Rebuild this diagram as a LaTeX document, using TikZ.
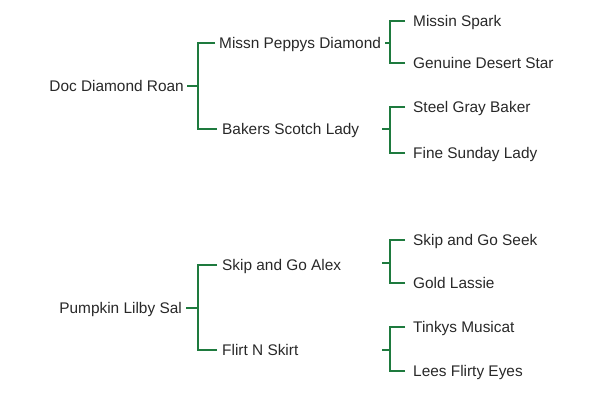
\documentclass[tikz,border=0pt]{standalone}
\usepackage{fontspec}
\setmainfont{Liberation Sans}
\definecolor{linegreen}{RGB}{30,122,62}
\definecolor{txtgray}{RGB}{40,40,40}
\begin{document}
\begin{tikzpicture}[x=1pt,y=-1pt,
  horse/.style={font=\fontsize{15.4}{17}\selectfont, text=txtgray, inner sep=0pt, text height=0.716em, text depth=0pt, yshift=-1.5pt},
  conn/.style={draw=linegreen, line width=1.3pt}]
\useasboundingbox (0,0) rectangle (600,400);
% top tree
\node[horse, anchor=east] (r1) at (184,86) {Doc Diamond Roan};
\node[horse, anchor=west] (a1) at (219,43) {Missn Peppys Diamond};
\node[horse, anchor=west] (a2) at (222,129) {Bakers Scotch Lady};
\node[horse, anchor=west] (b1) at (413,21) {Missin Spark};
\node[horse, anchor=west] (b2) at (413,63) {Genuine Desert Star};
\node[horse, anchor=west] (b3) at (413,107) {Steel Gray Baker};
\node[horse, anchor=west] (b4) at (413,153) {Fine Sunday Lady};
% bottom tree
\node[horse, anchor=east] (r2) at (182,308) {Pumpkin Lilby Sal};
\node[horse, anchor=west] (c1) at (222,265) {Skip and Go Alex};
\node[horse, anchor=west] (c2) at (222,350) {Flirt N Skirt};
\node[horse, anchor=west] (d1) at (413,240) {Skip and Go Seek};
\node[horse, anchor=west] (d2) at (413,283) {Gold Lassie};
\node[horse, anchor=west] (d3) at (413,327) {Tinkys Musicat};
\node[horse, anchor=west] (d4) at (413,371) {Lees Flirty Eyes};
% bracket joints
\coordinate (j1) at (198,86);
\coordinate (j2) at (198,308);
\coordinate (k1) at (390,43);
\coordinate (k2) at (390,129);
\coordinate (k3) at (390,263);
\coordinate (k4) at (390,350);
\coordinate (s1) at (382,43);
\coordinate (s2) at (382,129);
\coordinate (s3) at (382,263);
\coordinate (s4) at (382,350);
% connectors
\draw[conn] ([xshift=3pt]r1.east |- j1) -- (j1);
\draw[conn] ([xshift=-4pt]a1.west |- k1) -| (j1);
\draw[conn] ([xshift=-5pt]a2.west |- k2) -| (j1);
\draw[conn] ([xshift=4pt]r2.east |- j2) -- (j2);
\draw[conn] ([xshift=-5pt]c1.west |- 0,265) -| (j2);
\draw[conn] ([xshift=-5pt]c2.west |- k4) -| (j2);
\draw[conn] ([xshift=3pt]s1) -- (k1);
\draw[conn] (s2) -- (k2);
\draw[conn] (s3) -- (k3);
\draw[conn] (s4) -- (k4);
\draw[conn] ([xshift=-8pt]b1.west |- 0,21) -| (k1);
\draw[conn] ([xshift=-8pt]b2.west |- 0,63) -| (k1);
\draw[conn] ([xshift=-8pt]b3.west |- 0,107) -| (k2);
\draw[conn] ([xshift=-8pt]b4.west |- 0,153) -| (k2);
\draw[conn] ([xshift=-8pt]d1.west |- 0,240) -| (k3);
\draw[conn] ([xshift=-8pt]d2.west |- 0,283) -| (k3);
\draw[conn] ([xshift=-8pt]d3.west |- 0,327) -| (k4);
\draw[conn] ([xshift=-8pt]d4.west |- 0,371) -| (k4);
\end{tikzpicture}
\end{document}
